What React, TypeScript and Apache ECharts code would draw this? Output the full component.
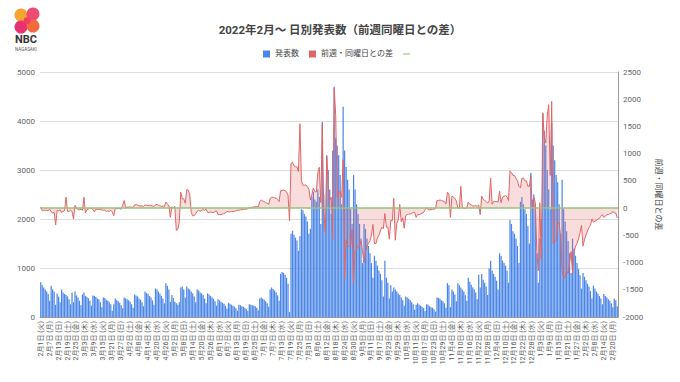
import { useEffect, useRef } from "react";
import * as echarts from "echarts";

// First day of the series: 2022-02-01 (Tuesday)
const START_YEAR = 2022;
const START_MONTH = 2;
const START_DAY = 1;
const WEEKDAYS = ["日", "月", "火", "水", "木", "金", "土"];

// Reported cases for the week before the chart starts (Jan 25 – Jan 31, 2022)
const PRIOR_WEEK = [690, 700, 640, 600, 560, 520, 350];

// Daily reported cases, one row per week (Tue … Mon), from 2022-02-01
const DAILY_CASES = [
  710, 650, 600, 560, 520, 470, 330,
  640, 560, 520, 250, 480, 420, 300,
  560, 500, 470, 450, 420, 360, 260,
  500, 300, 520, 440, 400, 330, 240,
  460, 500, 430, 410, 380, 330, 230,
  440, 430, 410, 380, 360, 300, 200,
  400, 390, 350, 330, 300, 260, 130,
  260, 380, 340, 320, 290, 240, 180,
  400, 380, 360, 340, 310, 260, 190,
  460, 440, 420, 380, 350, 300, 220,
  520, 490, 470, 430, 400, 340, 250,
  580, 560, 520, 480, 430, 380, 280,
  690, 640, 560, 310, 450, 390, 310,
  280, 250, 300, 600, 620, 560, 400,
  620, 580, 560, 520, 480, 420, 300,
  560, 540, 500, 480, 450, 380, 280,
  480, 460, 430, 400, 370, 320, 230,
  360, 340, 310, 290, 270, 230, 170,
  290, 270, 250, 230, 210, 180, 130,
  250, 240, 220, 210, 190, 160, 120,
  260, 250, 240, 230, 220, 190, 140,
  380, 400, 370, 350, 320, 280, 210,
  560, 600, 570, 540, 500, 440, 330,
  880, 920, 900, 860, 800, 680, 100,
  1700, 1760, 1680, 1620, 1560, 1350, 1650,
  2200, 2180, 2100, 2050, 1950, 1700, 1800,
  2450, 2550, 2400, 2350, 2600, 2450, 1900,
  3980, 2500, 1950, 3300, 3000, 2600, 2100,
  3400, 4700, 3650, 3500, 3300, 2900, 2300,
  4290, 3400, 3060, 2800, 2600, 2200, 1900,
  2900, 2600, 2300, 2100, 1900, 1600, 1100,
  1900, 1800, 1600, 1450, 1300, 1100, 800,
  1250, 1150, 1050, 950, 880, 750, 420,
  1150, 800, 700, 380, 650, 520, 600,
  560, 520, 480, 450, 400, 340, 230,
  420, 400, 370, 340, 300, 260, 150,
  250, 280, 250, 230, 210, 180, 120,
  260, 250, 220, 200, 190, 160, 110,
  400, 390, 370, 340, 320, 280, 190,
  690, 650, 200, 560, 520, 460, 320,
  690, 650, 600, 560, 520, 450, 330,
  800, 720, 660, 600, 560, 500, 360,
  860, 600, 880, 760, 700, 620, 450,
  990, 1150, 950, 880, 820, 740, 560,
  1300, 1250, 1150, 1100, 1050, 950, 700,
  1980, 1900, 1750, 1700, 1600, 1450, 1100,
  2350, 2450, 2300, 2200, 2100, 1850, 1500,
  2940, 2400, 2500, 2300, 1300, 700, 1600,
  2000, 4150, 3800, 3500, 3000, 2600, 2200,
  3960, 3500, 3200, 2900, 2750, 2300, 1700,
  2800, 2200, 1950, 1750, 1550, 1300, 900,
  1600, 1400, 1250, 1100, 980, 850, 580,
  900, 820, 750, 680, 620, 530, 380,
  640, 580, 520, 480, 430, 380, 260,
  470, 430, 400, 360, 330, 280, 200,
  380, 340, 220,
];

const LEFT_MIN = 0;
const LEFT_MAX = 5000;
const LEFT_STEP = 1000;
const RIGHT_MIN = -2000;
const RIGHT_MAX = 2500;
const RIGHT_STEP = 500;

const TITLE = "2022年2月～ 日別発表数（前週同曜日との差）";
const SERIES_CASES = "発表数";
const SERIES_DIFF = "前週・同曜日との差";
const SERIES_ZERO = " ";

function buildCategories(n: number): string[] {
  const out: string[] = [];
  for (let i = 0; i < n; i++) {
    const d = new Date(START_YEAR, START_MONTH - 1, START_DAY + i);
    out.push(`${d.getMonth() + 1}月${d.getDate()}日 (${WEEKDAYS[d.getDay()]})`);
  }
  return out;
}

function buildWeekDiff(values: number[], prior: number[]): number[] {
  return values.map((v, i) => v - (i >= 7 ? values[i - 7] : prior[i]));
}

const FONT = "Roboto, 'Noto Sans CJK JP', sans-serif";
const plain = (v: number) => String(v);

export default function App() {
  const ref = useRef<HTMLDivElement>(null);

  useEffect(() => {
    if (!ref.current) return;
    const chart = echarts.init(ref.current, undefined, { renderer: "svg" });
    const categories = buildCategories(DAILY_CASES.length);
    const diffs = buildWeekDiff(DAILY_CASES, PRIOR_WEEK);

    chart.setOption({
      animation: false,
      backgroundColor: "#ffffff",
      textStyle: { fontFamily: FONT },
      title: {
        text: TITLE,
        left: "center",
        top: 19,
        textStyle: { fontSize: 11.5, fontWeight: "bold", color: "#444", fontFamily: FONT },
      },
      legend: {
        top: 45,
        left: "center",
        itemGap: 10,
        itemWidth: 7,
        itemHeight: 7,
        textStyle: { fontSize: 8, color: "#444" },
        data: [
          { name: SERIES_CASES, icon: "rect" },
          { name: SERIES_DIFF, icon: "rect" },
          { name: SERIES_ZERO, icon: "path://M0,0H10V1.6H0Z" },
        ],
      },
      graphic: [
        { type: "circle", shape: { cx: 21, cy: 15, r: 6.5 }, style: { fill: "#f7a531" } },
        { type: "circle", shape: { cx: 33, cy: 14, r: 6.5 }, style: { fill: "#ec4c72" } },
        { type: "circle", shape: { cx: 21, cy: 27, r: 6.5 }, style: { fill: "#e6336f" } },
        { type: "circle", shape: { cx: 33, cy: 26, r: 6.5 }, style: { fill: "#f26a3c" } },
        { type: "circle", shape: { cx: 27, cy: 20.5, r: 3.5 }, style: { fill: "#ee3f5e" } },
        {
          type: "text",
          left: 15,
          top: 34,
          style: { text: "NBC", fontSize: 11, fontWeight: "bold", fill: "#333", fontFamily: FONT },
        },
        {
          type: "text",
          left: 15,
          top: 47,
          style: { text: "NAGASAKI", fontSize: 4.5, fill: "#555", fontFamily: FONT },
        },
      ],
      grid: { left: 40, right: 62, top: 72, bottom: 65, containLabel: false },
      xAxis: {
        type: "category",
        data: categories,
        boundaryGap: true,
        axisTick: { show: false },
        axisLine: { lineStyle: { color: "#999" } },
        axisLabel: { rotate: 90, interval: 5, fontSize: 7, color: "#555", margin: 4 },
      },
      yAxis: [
        {
          type: "value",
          min: LEFT_MIN,
          max: LEFT_MAX,
          interval: LEFT_STEP,
          axisLine: { show: false },
          axisTick: { show: false },
          axisLabel: { fontSize: 8, color: "#666", margin: 5, formatter: plain },
          splitLine: { lineStyle: { color: "#dddddd" } },
        },
        {
          type: "value",
          min: RIGHT_MIN,
          max: RIGHT_MAX,
          interval: RIGHT_STEP,
          position: "right",
          name: SERIES_DIFF,
          nameLocation: "middle",
          nameRotate: -90,
          nameGap: 36,
          nameTextStyle: { fontSize: 8, color: "#444" },
          axisLine: { show: true, lineStyle: { color: "#999" } },
          axisTick: { show: false },
          axisLabel: { fontSize: 8, color: "#666", margin: 5, formatter: plain },
          splitLine: { show: false },
        },
      ],
      series: [
        {
          name: SERIES_CASES,
          type: "bar",
          yAxisIndex: 0,
          data: DAILY_CASES,
          barCategoryGap: "18%",
          itemStyle: { color: "#4a86e8" },
          z: 2,
        },
        {
          name: SERIES_DIFF,
          type: "line",
          yAxisIndex: 1,
          data: diffs,
          showSymbol: false,
          symbol: "none",
          lineStyle: { color: "#e06666", width: 1 },
          itemStyle: { color: "#e06666" },
          areaStyle: { color: "rgba(230,110,110,0.35)" },
          z: 3,
        },
        {
          name: SERIES_ZERO,
          type: "line",
          yAxisIndex: 1,
          data: [],
          itemStyle: { color: "#93c47d" },
          lineStyle: { color: "#93c47d" },
          markLine: {
            silent: true,
            symbol: "none",
            label: { show: false },
            lineStyle: { color: "#93c47d", width: 1.5, type: "solid" },
            data: [{ yAxis: 0 }],
          },
          z: 4,
        },
      ],
    });

    return () => chart.dispose();
  }, []);

  return (
    <div
      ref={ref}
      style={{ position: "fixed", left: 0, top: 0, width: 680, height: 382, background: "#fff" }}
    />
  );
}
